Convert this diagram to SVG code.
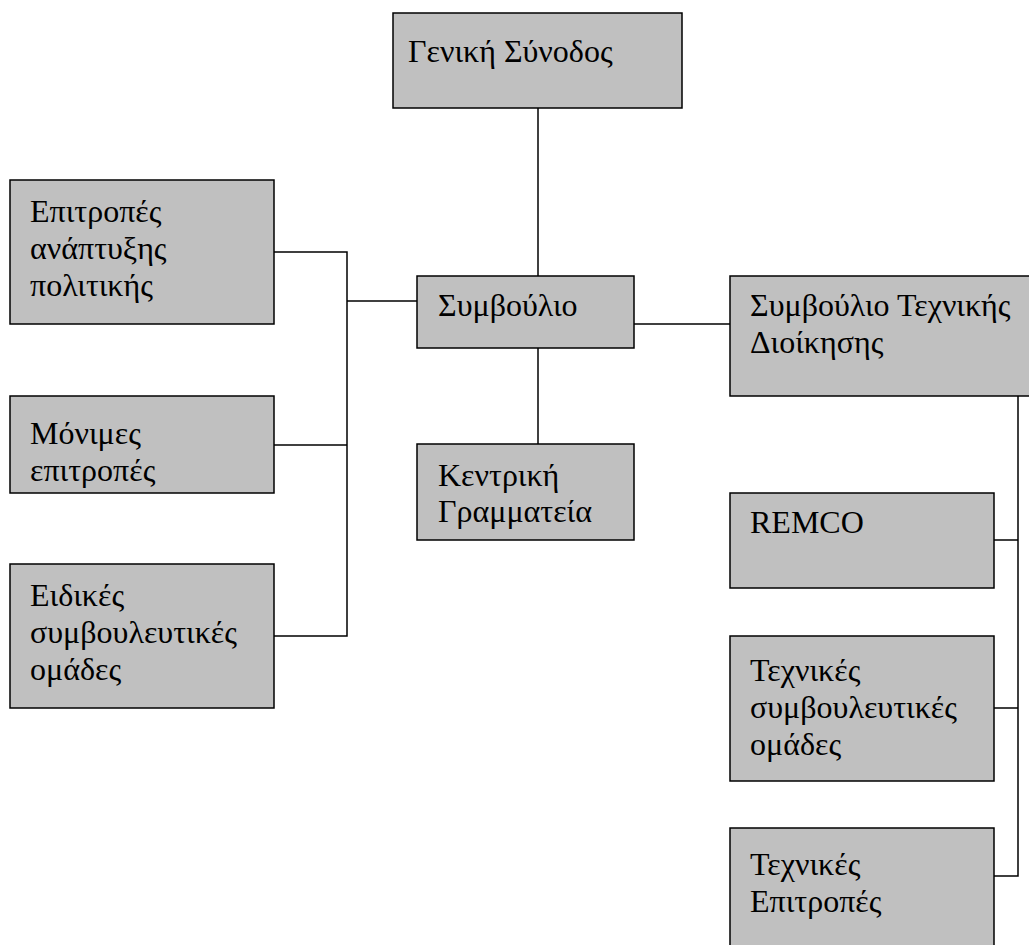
<svg xmlns="http://www.w3.org/2000/svg" width="1029" height="945" viewBox="0 0 1029 945">
<style>
.box{fill:#c0c0c0;stroke:#000;stroke-width:1.5}
.t{font-family:"Liberation Serif","Times New Roman","DejaVu Serif",serif;font-size:32px;fill:#000}
.c{fill:none;stroke:#000;stroke-width:1.5}
</style>
<rect width="1029" height="945" fill="#fff"/>
<g id="connectors">
<path class="c" d="M538,108V276"/>
<path class="c" d="M538,348V444"/>
<path class="c" d="M274,252H347V636H274"/>
<path class="c" d="M274,445H347"/>
<path class="c" d="M347,301H417"/>
<path class="c" d="M634,324H730"/>
<path class="c" d="M1018,396V876H994"/>
<path class="c" d="M994,540H1018"/>
<path class="c" d="M994,708H1018"/>
</g>
<g id="geniki-synodos">
<rect class="box" x="393" y="13" width="289" height="95"/>
<text class="t" x="408" y="62">Γενική Σύνοδος</text>
</g>
<g id="epitropes-anaptyxis">
<rect class="box" x="10" y="180" width="264" height="144"/>
<text class="t" x="30" y="222">Επιτροπές</text>
<text class="t" x="30" y="259">ανάπτυξης</text>
<text class="t" x="30" y="296">πολιτικής</text>
</g>
<g id="monimes-epitropes">
<rect class="box" x="10" y="396" width="264" height="97"/>
<text class="t" x="30" y="444">Μόνιμες</text>
<text class="t" x="30" y="481">επιτροπές</text>
</g>
<g id="eidikes-omades">
<rect class="box" x="10" y="564" width="264" height="144"/>
<text class="t" x="30" y="606">Ειδικές</text>
<text class="t" x="30" y="643">συμβουλευτικές</text>
<text class="t" x="30" y="680">ομάδες</text>
</g>
<g id="symvoulio">
<rect class="box" x="417" y="276" width="217" height="72"/>
<text class="t" x="438" y="316">Συμβούλιο</text>
</g>
<g id="kentriki-grammateia">
<rect class="box" x="417" y="444" width="217" height="96"/>
<text class="t" x="438" y="486">Κεντρική</text>
<text class="t" x="438" y="522">Γραμματεία</text>
</g>
<g id="symvoulio-texnikis">
<rect class="box" x="730" y="276" width="305" height="120"/>
<text class="t" x="750" y="316">Συμβούλιο Τεχνικής</text>
<text class="t" x="750" y="353">Διοίκησης</text>
</g>
<g id="remco">
<rect class="box" x="730" y="493" width="264" height="95"/>
<text class="t" x="750" y="533">REMCO</text>
</g>
<g id="texnikes-omades">
<rect class="box" x="730" y="636" width="264" height="145"/>
<text class="t" x="750" y="681">Τεχνικές</text>
<text class="t" x="750" y="718">συμβουλευτικές</text>
<text class="t" x="750" y="755">ομάδες</text>
</g>
<g id="texnikes-epitropes">
<rect class="box" x="730" y="828" width="264" height="130"/>
<text class="t" x="750" y="875">Τεχνικές</text>
<text class="t" x="750" y="912">Επιτροπές</text>
</g>
</svg>
